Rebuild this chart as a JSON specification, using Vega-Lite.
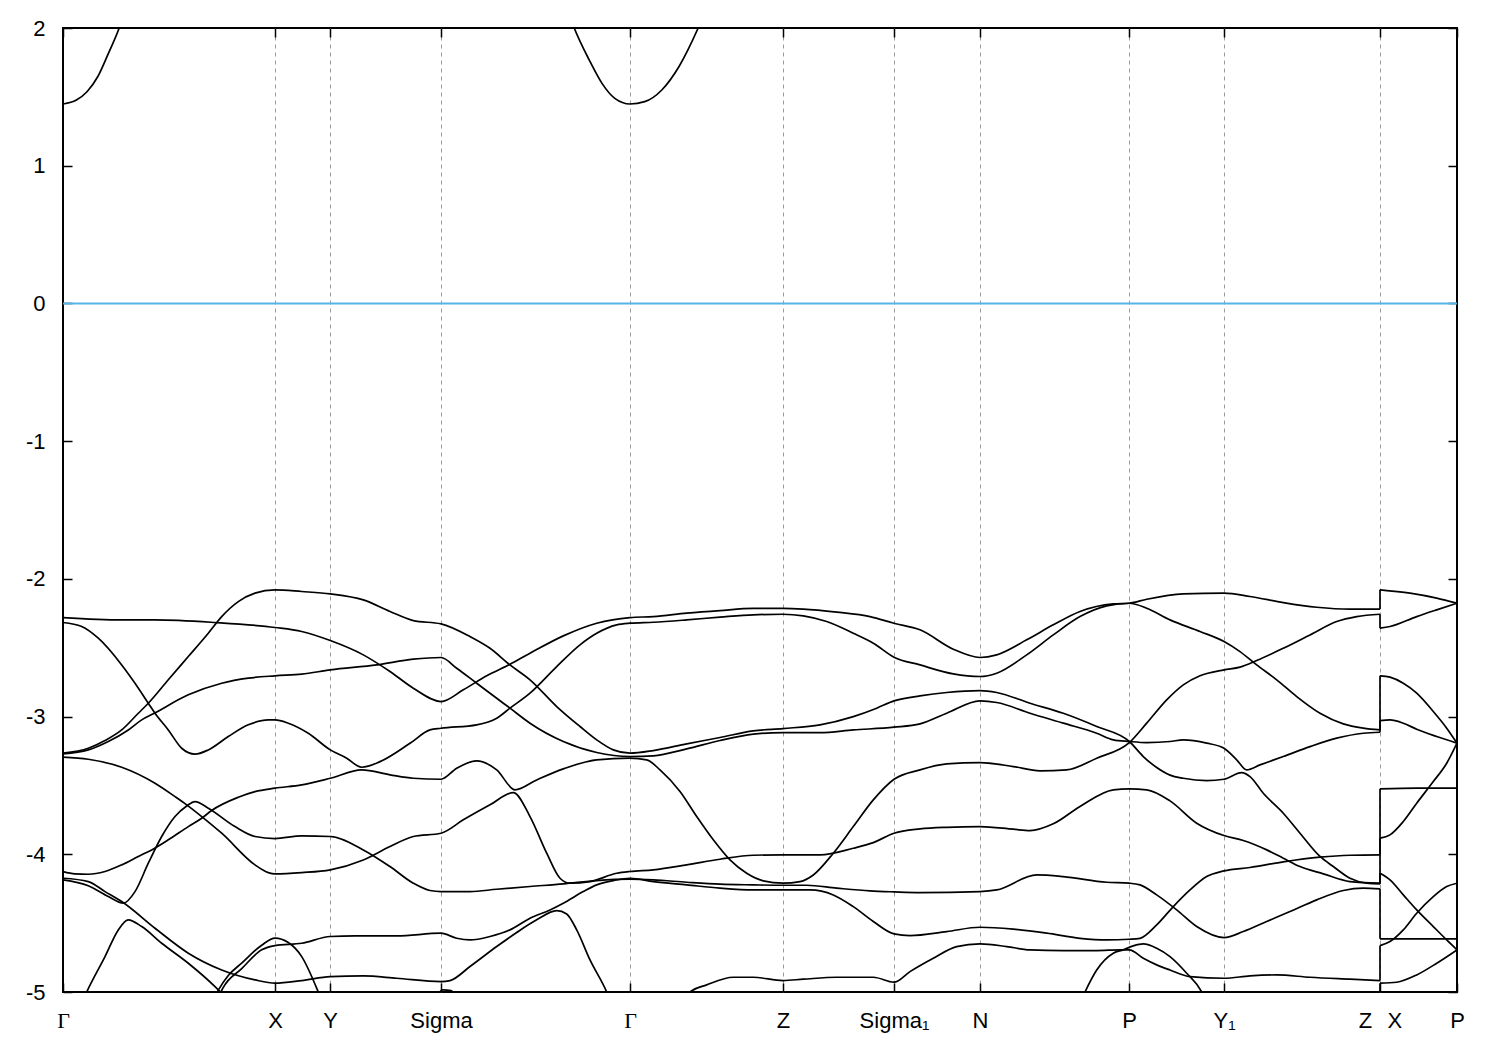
{
  "$schema": "https://vega.github.io/schema/vega-lite/v6.json",
  "width": 1394,
  "height": 964,
  "autosize": {"type": "none"},
  "padding": {"left": 63, "top": 28, "right": 43, "bottom": 58},
  "background": "white",
  "config": {
    "view": {"stroke": "black", "strokeWidth": 2},
    "axis": {"domain": false, "labelFont": "Liberation Sans", "labelFontSize": 22, "labelColor": "black", "tickColor": "black", "tickWidth": 1.5, "tickSize": -9, "title": null}
  },
  "resolve": {"axis": {"x": "independent", "y": "independent"}},
  "layer": [
    {
      "data": {"values": [{"e": 0}]},
      "mark": {"type": "rule", "color": "#56B4E9", "strokeWidth": 2},
      "encoding": {"y": {"field": "e", "type": "quantitative", "scale": {"domain": [-5, 2], "nice": false, "zero": false}, "axis": null}}
    },
    {
      "data": {"values": [
        {"b":"A","k":0,"e":-2.281},{"b":"A","k":58.7,"e":-2.298},{"b":"A","k":92,"e":-2.298},{"b":"A","k":152,"e":-2.317},{"b":"A","k":212,"e":-2.353},{"b":"A","k":238.7,"e":-2.382},{"b":"A","k":267.3,"e":-2.448},{"b":"A","k":300.3,"e":-2.552},{"b":"A","k":327,"e":-2.673},{"b":"A","k":350.3,"e":-2.794},{"b":"A","k":378,"e":-2.891},{"b":"A","k":400.3,"e":-2.806},{"b":"A","k":423.7,"e":-2.704},{"b":"A","k":447,"e":-2.62},{"b":"A","k":467,"e":-2.54},{"b":"A","k":500.3,"e":-2.414},{"b":"A","k":533.7,"e":-2.322},{"b":"A","k":567,"e":-2.281},{"b":"A","k":590.3,"e":-2.274},{"b":"A","k":623.7,"e":-2.249},{"b":"A","k":657,"e":-2.23},{"b":"A","k":690.3,"e":-2.215},{"b":"A","k":720,"e":-2.215},{"b":"A","k":740.3,"e":-2.22},{"b":"A","k":773.7,"e":-2.242},{"b":"A","k":807,"e":-2.274},{"b":"A","k":831,"e":-2.322},{"b":"A","k":857,"e":-2.37},{"b":"A","k":890.3,"e":-2.511},{"b":"A","k":917,"e":-2.571},{"b":"A","k":933.7,"e":-2.552},{"b":"A","k":963.7,"e":-2.443},{"b":"A","k":990.3,"e":-2.334},{"b":"A","k":1017,"e":-2.237},{"b":"A","k":1050.3,"e":-2.182},{"b":"A","k":1066.3,"e":-2.177},{"b":"A","k":1083.7,"e":-2.148},{"b":"A","k":1120.3,"e":-2.109},{"b":"A","k":1161,"e":-2.104},{"b":"A","k":1187,"e":-2.128},{"b":"A","k":1220.3,"e":-2.172},{"b":"A","k":1253.7,"e":-2.206},{"b":"A","k":1287,"e":-2.22},{"b":"A","k":1317,"e":-2.22},
        {"b":"B","k":0,"e":-2.317},{"b":"B","k":18.7,"e":-2.346},{"b":"B","k":35.3,"e":-2.431},{"b":"B","k":58.7,"e":-2.625},{"b":"B","k":72,"e":-2.758},{"b":"B","k":85.3,"e":-2.903},{"b":"B","k":92,"e":-2.976},{"b":"B","k":105.3,"e":-3.097},{"b":"B","k":118.7,"e":-3.23},{"b":"B","k":132,"e":-3.273},{"b":"B","k":145.3,"e":-3.242},{"b":"B","k":165.3,"e":-3.145},{"b":"B","k":185.3,"e":-3.06},{"b":"B","k":205.3,"e":-3.024},{"b":"B","k":212,"e":-3.024},{"b":"B","k":225.3,"e":-3.048},{"b":"B","k":245.3,"e":-3.121},{"b":"B","k":267.3,"e":-3.242},{"b":"B","k":283.7,"e":-3.302},{"b":"B","k":298.7,"e":-3.368},{"b":"B","k":317,"e":-3.327},{"b":"B","k":347,"e":-3.194},{"b":"B","k":367,"e":-3.097},{"b":"B","k":378,"e":-3.085},{"b":"B","k":413.7,"e":-3.06},{"b":"B","k":433.7,"e":-3.012},{"b":"B","k":447,"e":-2.939},{"b":"B","k":467,"e":-2.83},{"b":"B","k":493.7,"e":-2.637},{"b":"B","k":517,"e":-2.479},{"b":"B","k":533.7,"e":-2.395},{"b":"B","k":553.7,"e":-2.334},{"b":"B","k":567,"e":-2.322},{"b":"B","k":590.3,"e":-2.315},{"b":"B","k":623.7,"e":-2.298},{"b":"B","k":657,"e":-2.278},{"b":"B","k":690.3,"e":-2.261},{"b":"B","k":720,"e":-2.257},{"b":"B","k":740.3,"e":-2.269},{"b":"B","k":763.7,"e":-2.31},{"b":"B","k":790.3,"e":-2.395},{"b":"B","k":810.3,"e":-2.467},{"b":"B","k":831,"e":-2.569},{"b":"B","k":857,"e":-2.625},{"b":"B","k":890.3,"e":-2.69},{"b":"B","k":917,"e":-2.709},{"b":"B","k":933.7,"e":-2.685},{"b":"B","k":963.7,"e":-2.552},{"b":"B","k":990.3,"e":-2.407},{"b":"B","k":1017,"e":-2.274},{"b":"B","k":1043.7,"e":-2.196},{"b":"B","k":1066.3,"e":-2.177},{"b":"B","k":1083.7,"e":-2.213},{"b":"B","k":1107,"e":-2.298},{"b":"B","k":1137,"e":-2.382},{"b":"B","k":1161,"e":-2.455},{"b":"B","k":1177,"e":-2.528},{"b":"B","k":1193.7,"e":-2.625},{"b":"B","k":1213.7,"e":-2.733},{"b":"B","k":1233.7,"e":-2.855},{"b":"B","k":1257,"e":-2.976},{"b":"B","k":1280.3,"e":-3.053},{"b":"B","k":1300.3,"e":-3.084},{"b":"B","k":1317,"e":-3.097},
        {"b":"C","k":0,"e":-3.266},{"b":"C","k":25.3,"e":-3.23},{"b":"C","k":42,"e":-3.174},{"b":"C","k":58.7,"e":-3.097},{"b":"C","k":75.3,"e":-2.976},{"b":"C","k":85.3,"e":-2.903},{"b":"C","k":105.3,"e":-2.733},{"b":"C","k":125.3,"e":-2.564},{"b":"C","k":145.3,"e":-2.395},{"b":"C","k":158.7,"e":-2.274},{"b":"C","k":175.3,"e":-2.165},{"b":"C","k":192,"e":-2.104},{"b":"C","k":212,"e":-2.08},{"b":"C","k":238.7,"e":-2.092},{"b":"C","k":267.3,"e":-2.109},{"b":"C","k":300.3,"e":-2.153},{"b":"C","k":327,"e":-2.237},{"b":"C","k":350.3,"e":-2.303},{"b":"C","k":378,"e":-2.327},{"b":"C","k":407,"e":-2.419},{"b":"C","k":427,"e":-2.504},{"b":"C","k":447,"e":-2.625},{"b":"C","k":467,"e":-2.733},{"b":"C","k":493.7,"e":-2.927},{"b":"C","k":517,"e":-3.072},{"b":"C","k":533.7,"e":-3.169},{"b":"C","k":550.3,"e":-3.242},{"b":"C","k":567,"e":-3.266},{"b":"C","k":590.3,"e":-3.247},{"b":"C","k":623.7,"e":-3.198},{"b":"C","k":657,"e":-3.152},{"b":"C","k":690.3,"e":-3.104},{"b":"C","k":720,"e":-3.087},{"b":"C","k":757,"e":-3.06},{"b":"C","k":790.3,"e":-3.0},{"b":"C","k":813.7,"e":-2.939},{"b":"C","k":831,"e":-2.886},{"b":"C","k":857,"e":-2.85},{"b":"C","k":883.7,"e":-2.825},{"b":"C","k":917,"e":-2.811},{"b":"C","k":933.7,"e":-2.825},{"b":"C","k":967,"e":-2.903},{"b":"C","k":1000.3,"e":-2.976},{"b":"C","k":1033.7,"e":-3.072},{"b":"C","k":1066.3,"e":-3.181},{"b":"C","k":1080.3,"e":-3.29},{"b":"C","k":1093.7,"e":-3.37},{"b":"C","k":1107,"e":-3.425},{"b":"C","k":1120.3,"e":-3.448},{"b":"C","k":1143.7,"e":-3.465},{"b":"C","k":1161,"e":-3.455},{"b":"C","k":1178.7,"e":-3.407},{"b":"C","k":1187,"e":-3.436},{"b":"C","k":1200.3,"e":-3.557},{"b":"C","k":1220.3,"e":-3.702},{"b":"C","k":1237,"e":-3.847},{"b":"C","k":1257,"e":-4.016},{"b":"C","k":1270.3,"e":-4.089},{"b":"C","k":1287,"e":-4.174},{"b":"C","k":1303.7,"e":-4.21},{"b":"C","k":1317,"e":-4.215},
        {"b":"D","k":0,"e":-3.271},{"b":"D","k":25.3,"e":-3.242},{"b":"D","k":45.3,"e":-3.181},{"b":"D","k":65.3,"e":-3.097},{"b":"D","k":78.7,"e":-3.024},{"b":"D","k":90.3,"e":-2.98},{"b":"D","k":125.3,"e":-2.842},{"b":"D","k":158.7,"e":-2.758},{"b":"D","k":185.3,"e":-2.721},{"b":"D","k":212,"e":-2.704},{"b":"D","k":238.7,"e":-2.692},{"b":"D","k":267.3,"e":-2.661},{"b":"D","k":313.7,"e":-2.625},{"b":"D","k":350.3,"e":-2.583},{"b":"D","k":378,"e":-2.571},{"b":"D","k":393.7,"e":-2.649},{"b":"D","k":413.7,"e":-2.758},{"b":"D","k":433.7,"e":-2.867},{"b":"D","k":447,"e":-2.939},{"b":"D","k":467,"e":-3.048},{"b":"D","k":500.3,"e":-3.181},{"b":"D","k":533.7,"e":-3.261},{"b":"D","k":567,"e":-3.29},{"b":"D","k":590.3,"e":-3.285},{"b":"D","k":623.7,"e":-3.235},{"b":"D","k":657,"e":-3.174},{"b":"D","k":690.3,"e":-3.128},{"b":"D","k":720,"e":-3.116},{"b":"D","k":757,"e":-3.116},{"b":"D","k":790.3,"e":-3.097},{"b":"D","k":831,"e":-3.077},{"b":"D","k":857,"e":-3.053},{"b":"D","k":883.7,"e":-2.976},{"b":"D","k":917,"e":-2.886},{"b":"D","k":933.7,"e":-2.898},{"b":"D","k":967,"e":-2.976},{"b":"D","k":1000.3,"e":-3.048},{"b":"D","k":1033.7,"e":-3.121},{"b":"D","k":1050.3,"e":-3.169},{"b":"D","k":1066.3,"e":-3.181},{"b":"D","k":1083.7,"e":-3.189},{"b":"D","k":1107,"e":-3.181},{"b":"D","k":1120.3,"e":-3.169},{"b":"D","k":1143.7,"e":-3.193},{"b":"D","k":1161,"e":-3.23},{"b":"D","k":1173.7,"e":-3.314},{"b":"D","k":1183.7,"e":-3.387},{"b":"D","k":1197,"e":-3.351},{"b":"D","k":1220.3,"e":-3.29},{"b":"D","k":1247,"e":-3.218},{"b":"D","k":1273.7,"e":-3.157},{"b":"D","k":1300.3,"e":-3.121},{"b":"D","k":1317,"e":-3.114},
        {"b":"E","k":0,"e":-4.125},{"b":"E","k":12,"e":-4.142},{"b":"E","k":25.3,"e":-4.145},{"b":"E","k":42,"e":-4.125},{"b":"E","k":58.7,"e":-4.077},{"b":"E","k":75.3,"e":-4.016},{"b":"E","k":88.7,"e":-3.968},{"b":"E","k":105.3,"e":-3.895},{"b":"E","k":125.3,"e":-3.799},{"b":"E","k":138.7,"e":-3.738},{"b":"E","k":148.7,"e":-3.682},{"b":"E","k":175.3,"e":-3.586},{"b":"E","k":192,"e":-3.545},{"b":"E","k":212,"e":-3.52},{"b":"E","k":238.7,"e":-3.496},{"b":"E","k":267.3,"e":-3.448},{"b":"E","k":298.7,"e":-3.387},{"b":"E","k":327,"e":-3.423},{"b":"E","k":350.3,"e":-3.448},{"b":"E","k":378,"e":-3.455},{"b":"E","k":393.7,"e":-3.375},{"b":"E","k":413.7,"e":-3.322},{"b":"E","k":433.7,"e":-3.387},{"b":"E","k":452,"e":-3.532},{"b":"E","k":473.7,"e":-3.46},{"b":"E","k":500.3,"e":-3.38},{"b":"E","k":533.7,"e":-3.314},{"b":"E","k":567,"e":-3.302},{"b":"E","k":583.7,"e":-3.314},{"b":"E","k":597,"e":-3.387},{"b":"E","k":617,"e":-3.544},{"b":"E","k":633.7,"e":-3.726},{"b":"E","k":650.3,"e":-3.895},{"b":"E","k":667,"e":-4.041},{"b":"E","k":683.7,"e":-4.138},{"b":"E","k":700.3,"e":-4.193},{"b":"E","k":720,"e":-4.21},{"b":"E","k":737,"e":-4.198},{"b":"E","k":750.3,"e":-4.15},{"b":"E","k":770.3,"e":-3.992},{"b":"E","k":790.3,"e":-3.799},{"b":"E","k":810.3,"e":-3.605},{"b":"E","k":831,"e":-3.455},{"b":"E","k":857,"e":-3.387},{"b":"E","k":883.7,"e":-3.344},{"b":"E","k":917,"e":-3.334},{"b":"E","k":950.3,"e":-3.363},{"b":"E","k":977,"e":-3.394},{"b":"E","k":1003.7,"e":-3.387},{"b":"E","k":1033.7,"e":-3.302},{"b":"E","k":1066.3,"e":-3.189},{"b":"E","k":1083.7,"e":-3.048},{"b":"E","k":1103.7,"e":-2.879},{"b":"E","k":1120.3,"e":-2.77},{"b":"E","k":1137,"e":-2.704},{"b":"E","k":1161,"e":-2.661},{"b":"E","k":1177,"e":-2.641},{"b":"E","k":1193.7,"e":-2.593},{"b":"E","k":1220.3,"e":-2.504},{"b":"E","k":1247,"e":-2.407},{"b":"E","k":1273.7,"e":-2.31},{"b":"E","k":1293.7,"e":-2.274},{"b":"E","k":1317,"e":-2.257},
        {"b":"F","k":0,"e":-3.295},{"b":"F","k":25.3,"e":-3.31},{"b":"F","k":58.7,"e":-3.368},{"b":"F","k":92,"e":-3.484},{"b":"F","k":112,"e":-3.581},{"b":"F","k":123.7,"e":-3.641},{"b":"F","k":138.7,"e":-3.726},{"b":"F","k":158.7,"e":-3.847},{"b":"F","k":192,"e":-4.077},{"b":"F","k":205.3,"e":-4.133},{"b":"F","k":212,"e":-4.142},{"b":"F","k":238.7,"e":-4.133},{"b":"F","k":267.3,"e":-4.113},{"b":"F","k":300.3,"e":-4.041},{"b":"F","k":327,"e":-3.944},{"b":"F","k":350.3,"e":-3.871},{"b":"F","k":378,"e":-3.847},{"b":"F","k":400.3,"e":-3.75},{"b":"F","k":427,"e":-3.641},{"b":"F","k":450.3,"e":-3.552},{"b":"F","k":467,"e":-3.726},{"b":"F","k":483.7,"e":-3.992},{"b":"F","k":497,"e":-4.174},{"b":"F","k":507,"e":-4.21},{"b":"F","k":527,"e":-4.198},{"b":"F","k":553.7,"e":-4.138},{"b":"F","k":567,"e":-4.125},{"b":"F","k":590.3,"e":-4.113},{"b":"F","k":623.7,"e":-4.077},{"b":"F","k":657,"e":-4.036},{"b":"F","k":690.3,"e":-4.007},{"b":"F","k":720,"e":-4.004},{"b":"F","k":757,"e":-4.004},{"b":"F","k":790.3,"e":-3.956},{"b":"F","k":810.3,"e":-3.915},{"b":"F","k":831,"e":-3.847},{"b":"F","k":857,"e":-3.816},{"b":"F","k":883.7,"e":-3.804},{"b":"F","k":917,"e":-3.799},{"b":"F","k":950.3,"e":-3.818},{"b":"F","k":967,"e":-3.828},{"b":"F","k":990.3,"e":-3.779},{"b":"F","k":1017,"e":-3.653},{"b":"F","k":1050.3,"e":-3.532},{"b":"F","k":1066.3,"e":-3.525},{"b":"F","k":1083.7,"e":-3.532},{"b":"F","k":1107,"e":-3.612},{"b":"F","k":1133.7,"e":-3.774},{"b":"F","k":1161,"e":-3.864},{"b":"F","k":1180.3,"e":-3.9},{"b":"F","k":1203.7,"e":-3.968},{"b":"F","k":1220.3,"e":-4.029},{"b":"F","k":1237,"e":-4.089},{"b":"F","k":1260.3,"e":-4.142},{"b":"F","k":1287,"e":-4.198},{"b":"F","k":1317,"e":-4.21},
        {"b":"G","k":0,"e":-4.186},{"b":"G","k":25.3,"e":-4.229},{"b":"G","k":45.3,"e":-4.307},{"b":"G","k":60.3,"e":-4.355},{"b":"G","k":72,"e":-4.271},{"b":"G","k":85.3,"e":-4.065},{"b":"G","k":98.7,"e":-3.871},{"b":"G","k":112,"e":-3.726},{"b":"G","k":123.7,"e":-3.649},{"b":"G","k":132,"e":-3.617},{"b":"G","k":145.3,"e":-3.665},{"b":"G","k":172,"e":-3.799},{"b":"G","k":192,"e":-3.871},{"b":"G","k":212,"e":-3.886},{"b":"G","k":238.7,"e":-3.866},{"b":"G","k":267.3,"e":-3.871},{"b":"G","k":300.3,"e":-3.968},{"b":"G","k":327,"e":-4.089},{"b":"G","k":350.3,"e":-4.21},{"b":"G","k":367,"e":-4.263},{"b":"G","k":378,"e":-4.271},{"b":"G","k":407,"e":-4.271},{"b":"G","k":433.7,"e":-4.254},{"b":"G","k":467,"e":-4.234},{"b":"G","k":500.3,"e":-4.215},{"b":"G","k":533.7,"e":-4.191},{"b":"G","k":567,"e":-4.181},{"b":"G","k":590.3,"e":-4.186},{"b":"G","k":623.7,"e":-4.203},{"b":"G","k":657,"e":-4.217},{"b":"G","k":690.3,"e":-4.222},{"b":"G","k":720,"e":-4.225},{"b":"G","k":743.7,"e":-4.225},{"b":"G","k":773.7,"e":-4.246},{"b":"G","k":807,"e":-4.266},{"b":"G","k":831,"e":-4.273},{"b":"G","k":857,"e":-4.278},{"b":"G","k":917,"e":-4.271},{"b":"G","k":933.7,"e":-4.259},{"b":"G","k":973.7,"e":-4.15},{"b":"G","k":1000.3,"e":-4.162},{"b":"G","k":1043.7,"e":-4.203},{"b":"G","k":1066.3,"e":-4.21},{"b":"G","k":1077,"e":-4.222},{"b":"G","k":1093.7,"e":-4.295},{"b":"G","k":1113.7,"e":-4.404},{"b":"G","k":1133.7,"e":-4.525},{"b":"G","k":1161,"e":-4.605},{"b":"G","k":1180.3,"e":-4.561},{"b":"G","k":1203.7,"e":-4.488},{"b":"G","k":1227,"e":-4.416},{"b":"G","k":1253.7,"e":-4.331},{"b":"G","k":1280.3,"e":-4.263},{"b":"G","k":1300.3,"e":-4.246},{"b":"G","k":1317,"e":-4.251},
        {"b":"I","k":153,"e":-5.08},{"b":"I","k":160,"e":-4.97},{"b":"I","k":178.7,"e":-4.83},{"b":"I","k":198.7,"e":-4.694},{"b":"I","k":212,"e":-4.663},{"b":"I","k":238.7,"e":-4.646},{"b":"I","k":267.3,"e":-4.597},{"b":"I","k":292,"e":-4.593},{"b":"I","k":333.7,"e":-4.593},{"b":"I","k":378,"e":-4.573},{"b":"I","k":393.7,"e":-4.61},{"b":"I","k":407,"e":-4.622},{"b":"I","k":427,"e":-4.597},{"b":"I","k":447,"e":-4.549},{"b":"I","k":467,"e":-4.464},{"b":"I","k":487,"e":-4.404},{"b":"I","k":500.3,"e":-4.355},{"b":"I","k":520.3,"e":-4.271},{"b":"I","k":533.7,"e":-4.222},{"b":"I","k":550.3,"e":-4.191},{"b":"I","k":567,"e":-4.174},{"b":"I","k":590.3,"e":-4.198},{"b":"I","k":623.7,"e":-4.222},{"b":"I","k":657,"e":-4.246},{"b":"I","k":690.3,"e":-4.259},{"b":"I","k":720,"e":-4.259},{"b":"I","k":747,"e":-4.259},{"b":"I","k":770.3,"e":-4.295},{"b":"I","k":790.3,"e":-4.38},{"b":"I","k":810.3,"e":-4.488},{"b":"I","k":831,"e":-4.578},{"b":"I","k":847,"e":-4.59},{"b":"I","k":883.7,"e":-4.561},{"b":"I","k":917,"e":-4.53},{"b":"I","k":950.3,"e":-4.544},{"b":"I","k":983.7,"e":-4.573},{"b":"I","k":1017,"e":-4.61},{"b":"I","k":1043.7,"e":-4.622},{"b":"I","k":1066.3,"e":-4.617},{"b":"I","k":1077,"e":-4.61},{"b":"I","k":1093.7,"e":-4.513},{"b":"I","k":1110.3,"e":-4.38},{"b":"I","k":1127,"e":-4.259},{"b":"I","k":1143.7,"e":-4.162},{"b":"I","k":1161,"e":-4.121},{"b":"I","k":1187,"e":-4.096},{"b":"I","k":1220.3,"e":-4.055},{"b":"I","k":1257,"e":-4.021},{"b":"I","k":1287,"e":-4.007},{"b":"I","k":1317,"e":-4.004},
        {"b":"W","k":0,"e":-4.174},{"b":"W","k":25.3,"e":-4.198},{"b":"W","k":42,"e":-4.271},{"b":"W","k":58.7,"e":-4.343},{"b":"W","k":92,"e":-4.537},{"b":"W","k":125.3,"e":-4.718},{"b":"W","k":158.7,"e":-4.84},{"b":"W","k":192,"e":-4.912},{"b":"W","k":212,"e":-4.936},{"b":"W","k":238.7,"e":-4.917},{"b":"W","k":267.3,"e":-4.888},{"b":"W","k":300.3,"e":-4.883},{"b":"W","k":333.7,"e":-4.9},{"b":"W","k":378,"e":-4.924},{"b":"W","k":387,"e":-4.917},{"b":"W","k":407,"e":-4.815},{"b":"W","k":433.7,"e":-4.67},{"b":"W","k":453.7,"e":-4.568},{"b":"W","k":473.7,"e":-4.476},{"b":"W","k":493.7,"e":-4.409},{"b":"W","k":503.7,"e":-4.433},{"b":"W","k":513.7,"e":-4.549},{"b":"W","k":527,"e":-4.767},{"b":"W","k":543.7,"e":-5.0},{"b":"W","k":550.3,"e":-5.12},
        {"b":"T","k":18.7,"e":-5.08},{"b":"T","k":23.7,"e":-5.0},{"b":"T","k":42,"e":-4.743},{"b":"T","k":55.3,"e":-4.549},{"b":"T","k":65.3,"e":-4.476},{"b":"T","k":78.7,"e":-4.525},{"b":"T","k":98.7,"e":-4.646},{"b":"T","k":125.3,"e":-4.791},{"b":"T","k":152,"e":-4.961},{"b":"T","k":158.7,"e":-5.01},{"b":"T","k":165.3,"e":-5.06},
        {"b":"U","k":150,"e":-5.06},{"b":"U","k":155,"e":-4.99},{"b":"U","k":165.3,"e":-4.88},{"b":"U","k":178.7,"e":-4.79},{"b":"U","k":198.7,"e":-4.66},{"b":"U","k":212,"e":-4.609},{"b":"U","k":225.3,"e":-4.641},{"b":"U","k":238.7,"e":-4.743},{"b":"U","k":255.3,"e":-5.0},{"b":"U","k":258.7,"e":-5.06},
        {"b":"L","k":620.3,"e":-5.08},{"b":"L","k":627,"e":-5.0},{"b":"L","k":643.7,"e":-4.948},{"b":"L","k":670.3,"e":-4.893},{"b":"L","k":690.3,"e":-4.893},{"b":"L","k":720,"e":-4.917},{"b":"L","k":740.3,"e":-4.907},{"b":"L","k":773.7,"e":-4.893},{"b":"L","k":810.3,"e":-4.893},{"b":"L","k":831,"e":-4.929},{"b":"L","k":847,"e":-4.852},{"b":"L","k":870.3,"e":-4.755},{"b":"L","k":893.7,"e":-4.67},{"b":"L","k":917,"e":-4.651},{"b":"L","k":943.7,"e":-4.67},{"b":"L","k":967,"e":-4.694},{"b":"L","k":1000.3,"e":-4.699},{"b":"L","k":1033.7,"e":-4.699},{"b":"L","k":1057,"e":-4.694},{"b":"L","k":1066.3,"e":-4.694},{"b":"L","k":1080.3,"e":-4.755},{"b":"L","k":1093.7,"e":-4.803},{"b":"L","k":1107,"e":-4.84},{"b":"L","k":1127,"e":-4.888},{"b":"L","k":1161,"e":-4.9},{"b":"L","k":1187,"e":-4.883},{"b":"L","k":1213.7,"e":-4.876},{"b":"L","k":1247,"e":-4.893},{"b":"L","k":1287,"e":-4.907},{"b":"L","k":1317,"e":-4.917},
        {"b":"M","k":1017,"e":-5.08},{"b":"M","k":1022,"e":-5.0},{"b":"M","k":1033.7,"e":-4.84},{"b":"M","k":1050.3,"e":-4.718},{"b":"M","k":1060.3,"e":-4.694},{"b":"M","k":1070.3,"e":-4.665},{"b":"M","k":1080.3,"e":-4.651},{"b":"M","k":1093.7,"e":-4.682},{"b":"M","k":1107,"e":-4.743},{"b":"M","k":1123.7,"e":-4.864},{"b":"M","k":1138.7,"e":-5.0},{"b":"M","k":1143.7,"e":-5.08},
        {"b":"N","k":372,"e":-5.04},{"b":"N","k":380,"e":-4.985},{"b":"N","k":388,"e":-4.99},{"b":"N","k":394,"e":-5.04},
        {"b":"R1","k":1317,"e":-2.08},{"b":"R1","k":1347,"e":-2.104},{"b":"R1","k":1373.7,"e":-2.14},{"b":"R1","k":1394,"e":-2.177},
        {"b":"R2","k":1317,"e":-2.358},{"b":"R2","k":1327,"e":-2.346},{"b":"R2","k":1353.7,"e":-2.274},{"b":"R2","k":1373.7,"e":-2.225},{"b":"R2","k":1394,"e":-2.177},
        {"b":"R3","k":1317,"e":-2.704},{"b":"R3","k":1327,"e":-2.714},{"b":"R3","k":1340.3,"e":-2.758},{"b":"R3","k":1353.7,"e":-2.83},{"b":"R3","k":1370.3,"e":-2.963},{"b":"R3","k":1383.7,"e":-3.084},{"b":"R3","k":1394,"e":-3.193},
        {"b":"R4","k":1317,"e":-3.029},{"b":"R4","k":1327,"e":-3.024},{"b":"R4","k":1340.3,"e":-3.048},{"b":"R4","k":1353.7,"e":-3.092},{"b":"R4","k":1373.7,"e":-3.145},{"b":"R4","k":1394,"e":-3.193},
        {"b":"R5","k":1317,"e":-3.525},{"b":"R5","k":1353.7,"e":-3.52},{"b":"R5","k":1394,"e":-3.52},
        {"b":"R6","k":1317,"e":-3.883},{"b":"R6","k":1327,"e":-3.859},{"b":"R6","k":1340.3,"e":-3.762},{"b":"R6","k":1353.7,"e":-3.629},{"b":"R6","k":1370.3,"e":-3.472},{"b":"R6","k":1383.7,"e":-3.339},{"b":"R6","k":1394,"e":-3.193},
        {"b":"R7","k":1317,"e":-4.138},{"b":"R7","k":1327,"e":-4.186},{"b":"R7","k":1340.3,"e":-4.295},{"b":"R7","k":1353.7,"e":-4.404},{"b":"R7","k":1370.3,"e":-4.525},{"b":"R7","k":1383.7,"e":-4.622},{"b":"R7","k":1394,"e":-4.694},
        {"b":"R8","k":1317,"e":-4.614},{"b":"R8","k":1394,"e":-4.614},
        {"b":"R9","k":1317,"e":-4.663},{"b":"R9","k":1327,"e":-4.634},{"b":"R9","k":1340.3,"e":-4.549},{"b":"R9","k":1353.7,"e":-4.428},{"b":"R9","k":1370.3,"e":-4.307},{"b":"R9","k":1383.7,"e":-4.234},{"b":"R9","k":1394,"e":-4.21},
        {"b":"R10","k":1317,"e":-4.936},{"b":"R10","k":1333.7,"e":-4.929},{"b":"R10","k":1353.7,"e":-4.876},{"b":"R10","k":1373.7,"e":-4.791},{"b":"R10","k":1394,"e":-4.694},
        {"b":"c1","k":1317,"e":-2.22},{"b":"c1","k":1317,"e":-2.08},
        {"b":"c2","k":1317,"e":-2.257},{"b":"c2","k":1317,"e":-2.358},
        {"b":"c3","k":1317,"e":-3.097},{"b":"c3","k":1317,"e":-2.704},
        {"b":"c4","k":1317,"e":-3.114},{"b":"c4","k":1317,"e":-3.029},
        {"b":"c5","k":1317,"e":-4.004},{"b":"c5","k":1317,"e":-3.525},
        {"b":"c6","k":1317,"e":-4.21},{"b":"c6","k":1317,"e":-3.883},
        {"b":"c7","k":1317,"e":-4.215},{"b":"c7","k":1317,"e":-4.138},
        {"b":"c8","k":1317,"e":-4.251},{"b":"c8","k":1317,"e":-4.614},
        {"b":"c9","k":1317,"e":-4.917},{"b":"c9","k":1317,"e":-4.663},
        {"b":"c10","k":1317,"e":-5.2},{"b":"c10","k":1317,"e":-4.936}
      ]},
      "mark": {"type": "line", "color": "black", "strokeWidth": 1.7, "interpolate": "monotone", "clip": true},
      "encoding": {
        "x": {"field": "k", "type": "quantitative", "scale": {"domain": [0, 1394], "nice": false, "zero": false},
          "axis": {"orient": "bottom", "values": [0, 212, 267, 378, 567, 720, 831, 917, 1066, 1161, 1317, 1394],
            "labelExpr": "datum.value == 0 ? 'Γ' : datum.value == 212 ? 'X' : datum.value == 267 ? 'Y' : datum.value == 378 ? 'Sigma' : datum.value == 567 ? 'Γ' : datum.value == 720 ? 'Z' : datum.value == 831 ? 'Sigma₁' : datum.value == 917 ? 'N' : datum.value == 1066 ? 'P' : datum.value == 1161 ? 'Y₁' : datum.value == 1317 ? 'Z\u2002\u2009X' : 'P'",
            "labelFont": {"condition": {"test": "datum.value == 0 || datum.value == 567", "value": "Liberation Serif"}, "value": "Liberation Sans"},
            "labelPadding": 27, "labelFlush": false, "labelOverlap": false,
            "grid": true, "gridDash": [4, 4], "gridColor": "#9a9a9a", "gridWidth": 1,
            "gridOpacity": {"condition": {"test": "datum.value == 0 || datum.value == 1394", "value": 0}, "value": 1}}},
        "y": {"field": "e", "type": "quantitative", "scale": {"domain": [-5, 2], "nice": false, "zero": false},
          "axis": {"orient": "left", "values": [-5, -4, -3, -2, -1, 0, 1, 2], "labelExpr": "'' + datum.value", "labelPadding": 27, "grid": false, "labelFlush": false, "labelOverlap": false}},
        "detail": {"field": "b", "type": "nominal"}
      }
    },
    {
      "data": {"values": [
        {"b":"CB1","k":0,"e":1.448},{"b":"CB1","k":13.4,"e":1.477},{"b":"CB1","k":24,"e":1.537},{"b":"CB1","k":34.7,"e":1.646},{"b":"CB1","k":45.4,"e":1.816},{"b":"CB1","k":56.1,"e":1.998},{"b":"CB1","k":60,"e":2.08},
        {"b":"CB2","k":505,"e":2.12},{"b":"CB2","k":511.2,"e":2.0},{"b":"CB2","k":526.2,"e":1.768},{"b":"CB2","k":539,"e":1.598},{"b":"CB2","k":551.8,"e":1.489},{"b":"CB2","k":567,"e":1.448},{"b":"CB2","k":581.7,"e":1.465},{"b":"CB2","k":598.8,"e":1.55},{"b":"CB2","k":615.9,"e":1.719},{"b":"CB2","k":635.2,"e":2.0},{"b":"CB2","k":640,"e":2.08}
      ]},
      "mark": {"type": "line", "color": "black", "strokeWidth": 1.7, "interpolate": "monotone", "clip": true},
      "encoding": {
        "x": {"field": "k", "type": "quantitative", "scale": {"domain": [0, 1394], "nice": false, "zero": false},
          "axis": {"orient": "top", "values": [0, 212, 267, 378, 567, 720, 831, 917, 1066, 1161, 1317, 1394], "labels": false, "grid": false}},
        "y": {"field": "e", "type": "quantitative", "scale": {"domain": [-5, 2], "nice": false, "zero": false},
          "axis": {"orient": "right", "values": [-5, -4, -3, -2, -1, 0, 1, 2], "labels": false, "grid": false}},
        "detail": {"field": "b", "type": "nominal"}
      }
    }
  ]
}
